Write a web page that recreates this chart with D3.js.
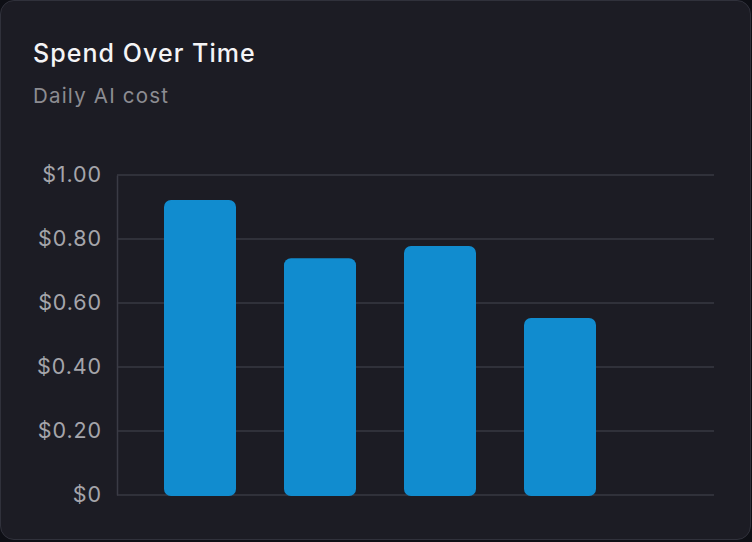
<!DOCTYPE html>
<html>
<head>
<meta charset="utf-8">
<script src="https://cdn.jsdelivr.net/npm/d3@7"></script>
<style>
  html, body { margin: 0; padding: 0; background: #0e0f15; }
  body { width: 752px; height: 542px; overflow: hidden; font-family: Inter, "Noto Sans", sans-serif; }
  .card {
    position: absolute; left: 0; top: 0;
    width: 749px; height: 538px;
    background: #1c1c24;
    border: 1.5px solid #30313b;
    border-radius: 14px;
  }
  svg { position: absolute; left: 0; top: 0; }
</style>
</head>
<body>
<div class="card"></div>
<div id="chart"></div>
<script>
// data
var days = ["Day 1", "Day 2", "Day 3", "Day 4"];
var cost = [0.922, 0.74, 0.778, 0.553];
var yTicks = [0, 0.2, 0.4, 0.6, 0.8, 1.0];

var width = 752, height = 542;
var margin = {top: 175, right: 38, bottom: 47, left: 117};

var svg = d3.select("#chart").append("svg")
  .attr("width", width)
  .attr("height", height);

// titles
svg.append("text")
  .attr("x", 33)
  .attr("y", 61.5)
  .attr("fill", "#f4f4f6")
  .attr("font-size", "25px")
  .attr("font-weight", 500)
  .attr("letter-spacing", "1.05px")
  .text("Spend Over Time");

svg.append("text")
  .attr("x", 33)
  .attr("y", 103)
  .attr("fill", "#8c8c92")
  .attr("font-size", "20.5px")
  .attr("letter-spacing", "1.2px")
  .text("Daily AI cost");

// scales
var y = d3.scaleLinear()
  .domain([0, 1])
  .range([height - margin.bottom, margin.top]);

var x = d3.scaleBand()
  .domain(days)
  .range([140, 620])
  .paddingInner(0.4)
  .paddingOuter(0.2);

// grid
svg.append("g")
  .selectAll("line")
  .data(yTicks)
  .enter()
  .append("line")
    .attr("x1", margin.left)
    .attr("x2", width - margin.right)
    .attr("y1", (d) => y(d))
    .attr("y2", (d) => y(d))
    .attr("stroke", "#373842")
    .attr("stroke-width", 1.5);

// y axis
var yAxis = d3.axisLeft(y)
  .tickValues(yTicks)
  .tickSize(0)
  .tickPadding(15)
  .tickFormat((d) => d === 0 ? "$0" : "$" + d.toFixed(2));

var ya = svg.append("g")
  .attr("transform", "translate(" + margin.left + ",0)")
  .call(yAxis);
ya.select(".domain").attr("stroke", "#3a3b45").attr("stroke-width", 1.5);
ya.selectAll("text")
  .attr("fill", "#a5a5ab")
  .attr("font-size", "21.5px")
  .attr("letter-spacing", "0.9px")
  .attr("font-family", "Inter, 'Noto Sans', sans-serif");

// bars
svg.append("g")
  .selectAll("rect")
  .data(cost)
  .enter()
  .append("rect")
    .attr("x", (d, i) => x(days[i]))
    .attr("y", (d) => y(d))
    .attr("width", x.bandwidth())
    .attr("height", (d) => y(0) - y(d) + 1)
    .attr("rx", 7)
    .attr("fill", "#118ccf");
</script>
</body>
</html>
